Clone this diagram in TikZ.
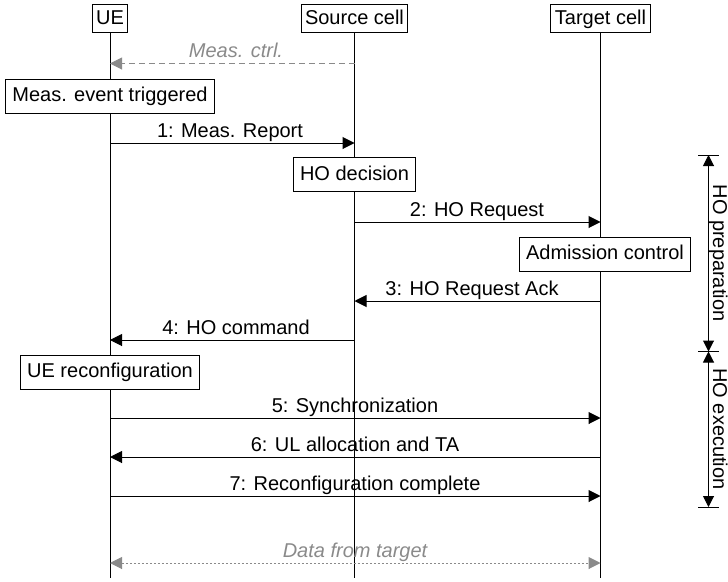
\documentclass[tikz,border=0pt]{standalone}
\usepackage{fontspec}
\setmainfont{Liberation Sans}
\usetikzlibrary{arrows.meta}
\definecolor{msggray}{HTML}{8A8A8A}
\begin{document}
\begin{tikzpicture}[x=1pt,y=-1pt,
  font=\fontsize{20}{24}\selectfont,
  lw/.style={line width=1pt},
  header/.style={draw,lw,fill=white,inner xsep=4pt,inner ysep=0pt,minimum height=28pt,text height=14.5pt,text depth=3.5pt},
  proc/.style={draw,lw,fill=white,inner xsep=7pt,inner ysep=0pt,minimum height=34pt,text height=14.5pt,text depth=3.5pt},
  life/.style={draw,lw},
  tip/.style={-{Triangle[length=12pt,width=12pt]}},
  msg/.style={draw,lw,tip},
  lbl/.style={anchor=base,inner sep=0pt},
  glbl/.style={anchor=base,inner sep=0pt,text=msggray,font=\fontsize{20}{24}\selectfont\itshape},
  dim/.style={draw,lw,{Triangle[length=11pt,width=11pt]}-{Triangle[length=11pt,width=11pt]}},
  tick/.style={draw,lw}
]
\useasboundingbox (0,0) rectangle (728,581);
% headers
\node[header] (ue) at (110,18.5) {UE};
\node[header] (src) at (354.5,18.5) {Source cell};
\node[header] (tgt) at (600.5,18.5) {Target cell};
% lifeline ends
\coordinate (ueEnd) at (110,578);
\coordinate (srcEnd) at (354.5,578);
\coordinate (tgtEnd) at (600.5,578);
\draw[life] (ue.south) -- (ueEnd);
\draw[life] (src.south) -- (srcEnd);
\draw[life] (tgt.south) -- (tgtEnd);
% message end points
\coordinate (c0a) at (354.5,63.5);  \coordinate (c0b) at (110,63.5);
\coordinate (c1a) at (110,143);     \coordinate (c1b) at (354.5,143);
\coordinate (c2a) at (354.5,222);   \coordinate (c2b) at (600.5,222);
\coordinate (c3a) at (600.5,301);   \coordinate (c3b) at (354.5,301);
\coordinate (c4a) at (354.5,340);   \coordinate (c4b) at (110,340);
\coordinate (c5a) at (110,418);     \coordinate (c5b) at (600.5,418);
\coordinate (c6a) at (600.5,457);   \coordinate (c6b) at (110,457);
\coordinate (c7a) at (110,496);     \coordinate (c7b) at (600.5,496);
\coordinate (c8a) at (110,563);     \coordinate (c8b) at (600.5,563);
% Meas ctrl
\draw[lw,draw=msggray,dash pattern=on 6pt off 4pt,-{Triangle[length=12pt,width=12pt,fill=msggray]}] (c0a) -- (c0b);
\node[glbl] (l0) at (236,57) {Meas. ctrl.};
% boxes
\node[proc] (mev) at (110,96) {Meas. event triggered};
\draw[msg] (c1a) -- (c1b);
\node[lbl] (l1) at (230,137) {1: Meas. Report};
\node[proc] (hod) at (354.5,174.5) {HO decision};
\draw[msg] (c2a) -- (c2b);
\node[lbl] (l2) at (477,216) {2: HO Request};
\node[proc] (adm) at (605,254) {Admission control};
\draw[msg] (c3a) -- (c3b);
\node[lbl] (l3) at (472,295) {3: HO Request Ack};
\draw[msg] (c4a) -- (c4b);
\node[lbl] (l4) at (236,334) {4: HO command};
\node[proc] (uer) at (110,372) {UE reconfiguration};
\draw[msg] (c5a) -- (c5b);
\node[lbl] (l5) at (355,412) {5: Synchronization};
\draw[msg] (c6a) -- (c6b);
\node[lbl] (l6) at (355,451) {6: UL allocation and TA};
\draw[msg] (c7a) -- (c7b);
\node[lbl] (l7) at (355,490) {7: Reconfiguration complete};
% data from target
\draw[lw,draw=msggray,dash pattern=on 2pt off 2pt,{Triangle[length=12pt,width=12pt,fill=msggray]}-{Triangle[length=12pt,width=12pt,fill=msggray]}] (c8a) -- (c8b);
\node[glbl] (l8) at (355,557) {Data from target};
% phase dimensions
\coordinate (p1) at (708.5,155);
\coordinate (p2) at (708.5,351.5);
\coordinate (p3) at (708.5,507);
\coordinate (t1a) at (698,155);   \coordinate (t1b) at (719,155);
\coordinate (t2a) at (698,351.5); \coordinate (t2b) at (719,351.5);
\coordinate (t3a) at (698,507);   \coordinate (t3b) at (719,507);
\draw[tick] (t1a) -- (t1b);
\draw[tick] (t2a) -- (t2b);
\draw[tick] (t3a) -- (t3b);
\draw[dim] (p1) -- (p2);
\draw[dim] (p2) -- (p3);
\node[lbl,rotate=-90] (hp) at (713,253) {HO preparation};
\node[lbl,rotate=-90] (he) at (713,429) {HO execution};
\end{tikzpicture}
\end{document}
